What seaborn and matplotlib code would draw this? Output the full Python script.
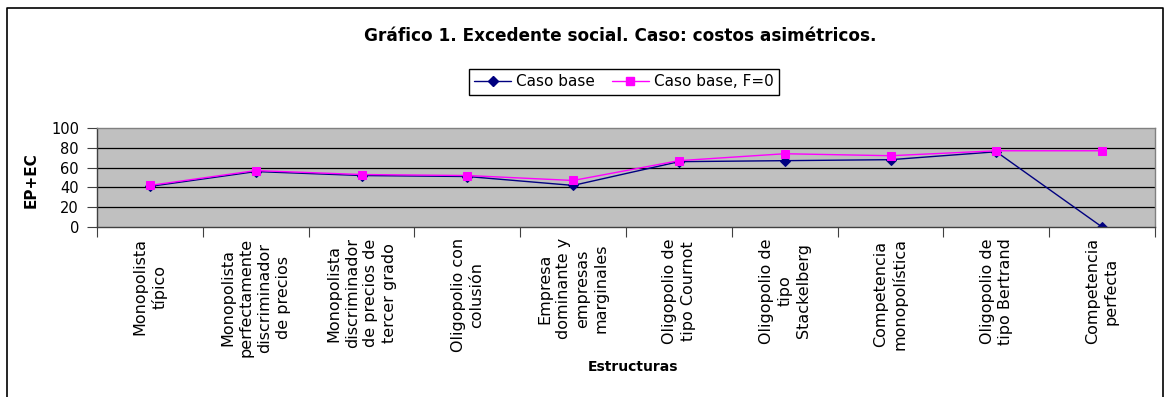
import matplotlib
matplotlib.use("Agg")
import matplotlib.pyplot as plt
from matplotlib.lines import Line2D
import seaborn as sns
import pandas as pd

categories = [
    "Monopolista\ntípico",
    "Monopolista\nperfectamente\ndiscriminador\nde precios",
    "Monopolista\ndiscriminador\nde precios de\ntercer grado",
    "Oligopolio con\ncolusión",
    "Empresa\ndominante y\nempresas\nmarginales",
    "Oligopolio de\ntipo Cournot",
    "Oligopolio de\ntipo\nStackelberg",
    "Competencia\nmonopolística",
    "Oligopolio de\ntipo Bertrand",
    "Competencia\nperfecta",
]
caso_base = [41, 56, 52, 51, 42, 66, 67, 68, 76, 0]
caso_base_f0 = [42, 57, 53, 52, 47, 67, 74, 72, 77, 77]
series_names = ["Caso base", "Caso base, F=0"]
y_ticks = [0, 20, 40, 60, 80, 100]

title = "Gráfico 1. Excedente social. Caso: costos asimétricos."
x_label = "Estructuras"
y_label = "EP+EC"

sns.set_style("white")
plt.rcParams["font.family"] = ["DejaVu Sans"]
plt.rcParams["text.color"] = "black"
plt.rcParams["axes.labelcolor"] = "black"
plt.rcParams["xtick.color"] = "black"
plt.rcParams["ytick.color"] = "black"

W, H = 1167, 397
fig = plt.figure(figsize=(W / 100, H / 100), dpi=100)
ax = fig.add_axes([97 / W, 1 - 227 / H, (1155 - 97) / W, (227 - 128) / H])
ax.set_facecolor("#C0C0C0")

df = pd.DataFrame({"cat": categories, "base": caso_base, "f0": caso_base_f0})

blue = "#000080"
pink = "#FF00FF"
sns.lineplot(data=df, x="cat", y="base", ax=ax, sort=False, color=blue,
             marker="D", markersize=5, markeredgecolor=blue, linewidth=1.0,
             label=series_names[0], legend=False)
sns.lineplot(data=df, x="cat", y="f0", ax=ax, sort=False, color=pink,
             marker="s", markersize=6, markeredgecolor=pink, linewidth=1.0,
             label=series_names[1], legend=False)

n = len(categories)
ax.set_xlim(-0.5, n - 0.5)
ax.set_ylim(0, 100)
ax.set_yticks(y_ticks)
ax.set_yticklabels([str(v) for v in y_ticks], fontsize=10.5, color="black")
ax.set_xticks(range(n))
ax.set_xticklabels(categories, fontsize=11.5, rotation=90, color="black",
                   multialignment="center", linespacing=1.3)
ax.set_xticks([i - 0.5 for i in range(n + 1)], minor=True)
ax.tick_params(axis="x", which="major", length=0, pad=8)
ax.tick_params(axis="x", which="minor", length=7, width=0.8, color="#404040",
               direction="out", bottom=True)
ax.tick_params(axis="y", length=7, width=0.8, color="#404040", direction="out",
               left=True, pad=6)

for v in y_ticks[1:-1]:
    ax.axhline(v, color="black", linewidth=0.9, zorder=1)

for s in ["left", "bottom"]:
    ax.spines[s].set_color("#404040")
    ax.spines[s].set_linewidth(1.0)
for s in ["top", "right"]:
    ax.spines[s].set_color("#808080")
    ax.spines[s].set_linewidth(1.0)

ax.set_xlabel(x_label, fontsize=10, fontweight="bold", color="black")
ax.xaxis.set_label_coords((633 - 97) / (1155 - 97), (227 - 367) / 99)
ax.xaxis.label.set_va("center")
ax.set_ylabel(y_label, fontsize=11, fontweight="bold", color="black")
ax.yaxis.set_label_coords((31 - 97) / (1155 - 97), 0.47)
ax.yaxis.label.set_va("center")

fig.text(620 / W, 1 - 36 / H, title, ha="center", va="center",
         fontsize=12.2, fontweight="bold", color="black")

handles = [
    Line2D([], [], color=blue, marker="D", markersize=5, linewidth=1.0),
    Line2D([], [], color=pink, marker="s", markersize=6, linewidth=1.0),
]
leg = fig.legend(handles, series_names, loc="center",
                 bbox_to_anchor=(624 / W, 1 - 82 / H), ncol=2, fontsize=11,
                 frameon=True, fancybox=False, handlelength=2.4,
                 handletextpad=0.35, columnspacing=1.1, borderpad=0.35,
                 edgecolor="black", framealpha=1, labelcolor="black")
leg.get_frame().set_linewidth(1.0)

# outer chart border (left, top, right)
fig.add_artist(Line2D([7 / W, 7 / W, 1163 / W, 1163 / W],
                      [-0.05, 1 - 8 / H, 1 - 8 / H, -0.05],
                      transform=fig.transFigure, color="black", linewidth=1.2))

fig.savefig("out.png", dpi=100)
